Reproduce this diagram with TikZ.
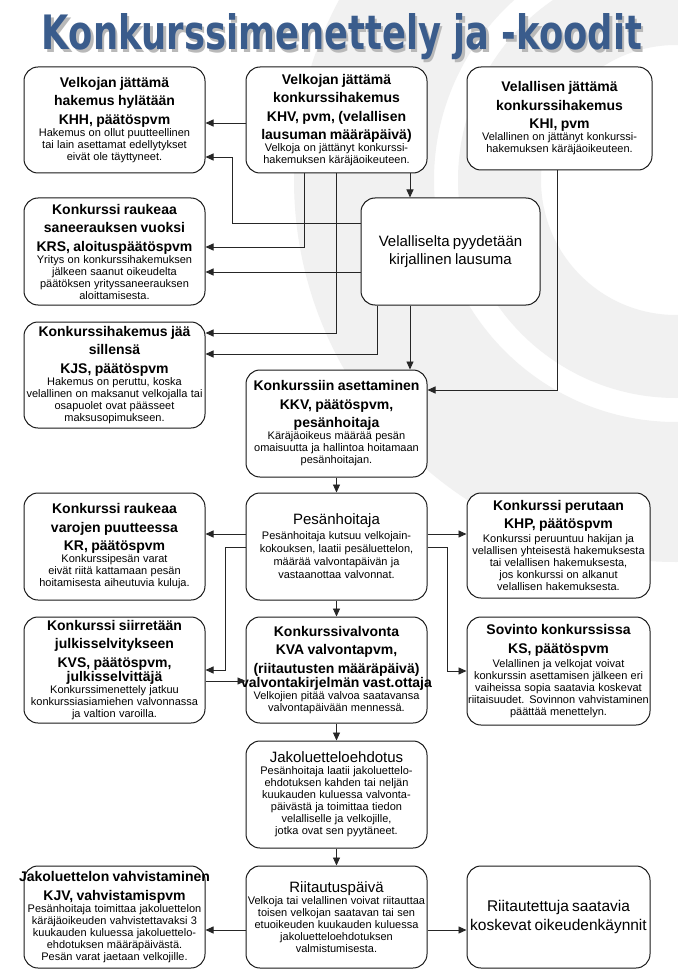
\documentclass[tikz,border=0pt]{standalone}
\usepackage{fontspec}
\setmainfont{Liberation Sans}
\newfontfamily\titlefont{DejaVu Sans}
\usetikzlibrary{arrows.meta}
\definecolor{titleblue}{RGB}{58,92,140}
\definecolor{shadowgray}{RGB}{185,185,185}
\definecolor{wmgray}{RGB}{241,241,241}
\newcommand{\bt}[1]{{\fontsize{14}{18.5}\selectfont\bfseries #1\par}}
\newcommand{\st}[1]{{\fontsize{11}{12}\selectfont #1\par}}
\newcommand{\rt}[1]{{\fontsize{15}{18}\selectfont #1\par}}
\newcommand{\titletext}{\resizebox{600pt}{36pt}{\titlefont\bfseries\fontsize{46}{50}\selectfont Konkurssimenettely ja -koodit}}
\begin{document}
\begin{tikzpicture}[x=1pt,y=-1pt,
  box/.style={draw=black!90, line width=1pt, rounded corners=14pt, fill=white, inner xsep=-10pt, inner ysep=1pt, align=center},
  colL/.style={box, minimum width=181pt, text width=201pt},
  colR/.style={box, minimum width=183pt, text width=203pt},
  conn/.style={draw=black!85, line width=0.9pt, -{Triangle[length=8pt,width=7pt]}}]
\useasboundingbox (0,0) rectangle (677,976);
\fill[white] (0,0) rectangle (677,976);
% watermark
\fill[wmgray, even odd rule] (676,180) circle[radius=382pt] (676,180) circle[radius=242pt];
\fill[wmgray, even odd rule] (676,180) circle[radius=218pt] (676,180) circle[radius=135pt];
% title
\node[anchor=base, inner sep=0pt, text=shadowgray] (tshadow) at (344.5,52.5) {\titletext};
\node[anchor=base, inner sep=0pt, text=titleblue] (title) at (342,50) {\titletext};
% boxes
\node[colL, minimum height=106pt] (KHH) at (114.5,120) {\bt{Velkojan jättämä\\hakemus hylätään\\KHH, päätöspvm}\st{Hakemus on ollut puutteellinen\\tai lain asettamat edellytykset\\eivät ole täyttyneet.}};
\node[colL, minimum height=106pt] (KHV) at (336.5,120) {\bt{Velkojan jättämä\\konkurssihakemus\\KHV, pvm, (velallisen\\lausuman määräpäivä)}\st{Velkoja on jättänyt konkurssi-\\hakemuksen käräjäoikeuteen.}};
\node[box, minimum width=185pt, text width=205pt, minimum height=103pt] (KHI) at (559.5,118.5) {\bt{Velallisen jättämä\\konkurssihakemus\\KHI, pvm}\st{Velallinen on jättänyt konkurssi-\\hakemuksen käräjäoikeuteen.}};
\node[box, minimum width=179pt, text width=199pt, minimum height=107pt] (VL) at (450.5,251.5) {\rt{Velalliselta pyydetään\\kirjallinen lausuma}\vspace*{12pt}};
\node[colL, minimum height=107pt] (KRS) at (114.5,251.5) {\bt{Konkurssi raukeaa\\saneerauksen vuoksi\\KRS, aloituspäätöspvm}\st{Yritys on konkurssihakemuksen\\jälkeen saanut oikeudelta\\päätöksen yrityssaneerauksen\\aloittamisesta.}};
\node[colL, minimum height=106pt] (KJS) at (114.5,375) {\bt{Konkurssihakemus jää\\sillensä\\KJS, päätöspvm}\st{Hakemus on peruttu, koska\\velallinen on maksanut velkojalla tai\\osapuolet ovat päässeet\\maksusopimukseen.}};
\node[colL, minimum height=107pt] (KKV) at (336.5,423.5) {\bt{Konkurssiin asettaminen\\KKV, päätöspvm,\\pesänhoitaja}\st{Käräjäoikeus määrää pesän\\omaisuutta ja hallintoa hoitamaan\\pesänhoitajan.}};
\node[colL, minimum height=107pt] (KR) at (114.5,546.5) {\bt{Konkurssi raukeaa\\varojen puutteessa\\KR, päätöspvm}\st{Konkurssipesän varat\\eivät riitä kattamaan pesän\\hoitamisesta aiheutuvia kuluja.}};
\node[colL, minimum height=107pt] (PH) at (336.5,546.5) {\rt{Pesänhoitaja}\vspace*{2pt}{\fontsize{11}{13}\selectfont Pesänhoitaja kutsuu velkojain-\\kokouksen, laatii pesäluettelon,\\määrää valvontapäivän ja\\vastaanottaa valvonnat.\par}\vspace*{4pt}};
\node[colR, minimum height=105pt] (KHP) at (558.5,545.5) {\bt{Konkurssi perutaan\\KHP, päätöspvm}\vspace*{2pt}\st{Konkurssi peruuntuu hakijan ja\\velallisen yhteisestä hakemuksesta\\tai velallisen hakemuksesta,\\jos konkurssi on alkanut\\velallisen hakemuksesta.}};
\node[colL, minimum height=106pt] (KVS) at (114.5,670) {\bt{Konkurssi siirretään\\julkisselvitykseen\\KVS, päätöspvm,\\[-4pt]julkisselvittäjä}\st{Konkurssimenettely jatkuu\\konkurssiasiamiehen valvonnassa\\ja valtion varoilla.}};
\node[colL, minimum height=106pt] (KVA) at (336.5,670) {\bt{Konkurssivalvonta\\KVA valvontapvm,\\(riitautusten määräpäivä)\\[-4pt]valvontakirjelmän vast.ottaja}\st{Velkojien pitää valvoa saatavansa\\valvontapäivään mennessä.}};
\node[colR, minimum height=108pt] (KS) at (558.5,671) {\bt{Sovinto konkurssissa\\KS, päätöspvm}\vspace*{2pt}\st{Velallinen ja velkojat voivat\\konkurssin asettamisen jälkeen eri\\vaiheissa sopia saatavia koskevat\\riitaisuudet. Sovinnon vahvistaminen\\päättää menettelyn.}};
\node[colL, minimum height=107pt] (JE) at (336.5,794.5) {\rt{Jakoluetteloehdotus}\st{Pesänhoitaja laatii jakoluettelo-\\ehdotuksen kahden tai neljän\\kuukauden kuluessa valvonta-\\päivästä ja toimittaa tiedon\\velalliselle ja velkojille,\\jotka ovat sen pyytäneet.}};
\node[colL, minimum height=102pt] (KJV) at (114.5,917) {\bt{Jakoluettelon vahvistaminen\\KJV, vahvistamispvm}\st{Pesänhoitaja toimittaa jakoluettelon\\käräjäoikeuden vahvistettavaksi 3\\kuukauden kuluessa jakoluettelo-\\ehdotuksen määräpäivästä.\\Pesän varat jaetaan velkojille.}};
\node[colL, minimum height=102pt] (RP) at (336.5,917) {\rt{Riitautuspäivä}\st{Velkoja tai velallinen voivat riitauttaa\\toisen velkojan saatavan tai sen\\etuoikeuden kuukauden kuluessa\\jakoluetteloehdotuksen\\valmistumisesta.}};
\node[colR, minimum height=102pt] (RO) at (558.5,917) {{\fontsize{15.5}{19}\selectfont Riitautettuja saatavia\\koskevat oikeudenkäynnit\par}};
% connectors
\draw[conn] (KHV.west |- 0,123) -- (KHH.east |- 0,123);
\draw[conn] (VL.west |- 0,223) -- (232,223) -- (232,157) -- (KHH.east |- 0,157);
\draw[conn] (KHV.south -| 410,0) -- (VL.north -| 410,0);
\draw[conn] (KHV.south -| 304,0) -- (304,247) -- (KRS.east |- 0,247);
\draw[conn] (KHV.south -| 336,0) -- (336,333) -- (KJS.east |- 0,333);
\draw[conn] (VL.west |- 0,272) -- (KRS.east |- 0,272);
\draw[conn] (VL.south -| 377,0) -- (377,354) -- (KJS.east |- 0,354);
\draw[conn] (VL.south -| 410,0) -- (KKV.north -| 410,0);
\draw[conn] (KHI.south -| 557,0) -- (557,390) -- (KKV.east |- 0,390);
\draw[conn] (KKV.south) -- (PH.north);
\draw[conn] (PH.west |- 0,534) -- (KR.east |- 0,534);
\draw[conn] (PH.east |- 0,534) -- (KHP.west |- 0,534);
\draw[conn] (PH.west |- 0,547) -- (225,547) -- (225,670) -- (KVS.east |- 0,670);
\draw[conn] (PH.east |- 0,547) -- (447,547) -- (447,671) -- (KS.west |- 0,671);
\draw[conn] (PH.south) -- (KVA.north);
\draw[conn] (KVS.east |- 0,681) -- (KVA.west |- 0,681);
\draw[conn] (KVA.south) -- (JE.north);
\draw[conn] (JE.south) -- (RP.north);
\draw[conn] (RP.west |- 0,930) -- (KJV.east |- 0,930);
\draw[conn] (RP.east |- 0,930) -- (RO.west |- 0,930);
\end{tikzpicture}
\end{document}
